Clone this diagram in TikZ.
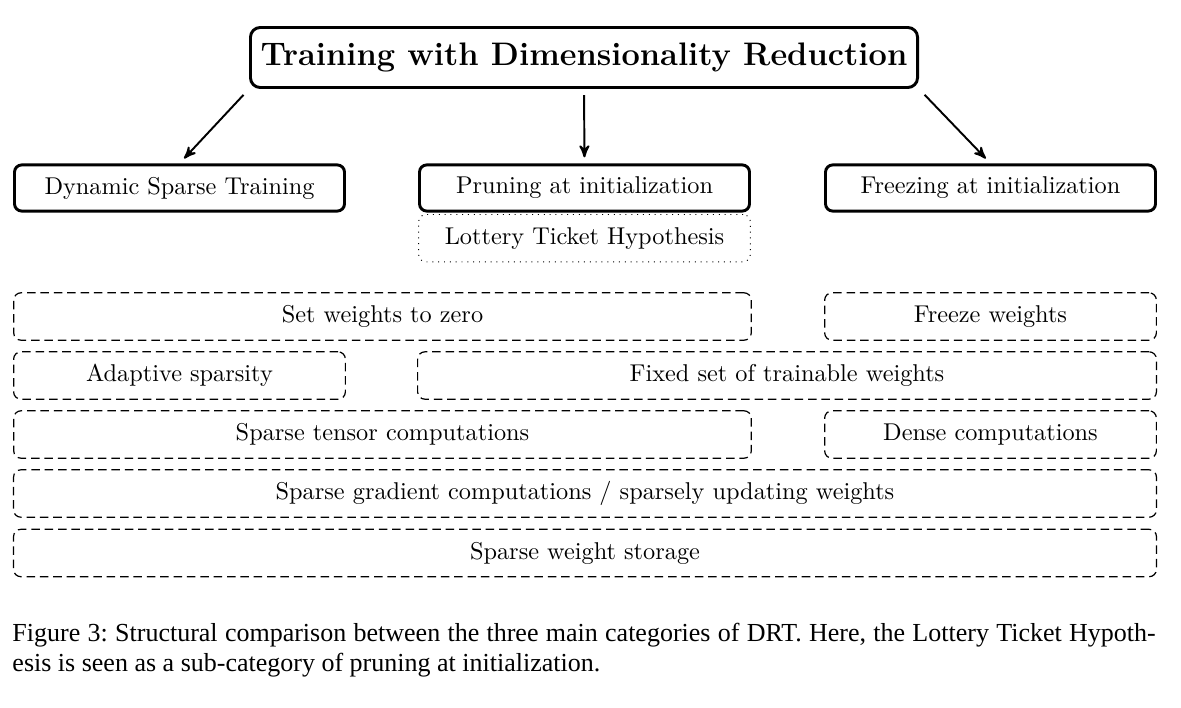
\documentclass[tikz,border=0pt]{standalone}
\usepackage{fontspec}
\usepackage{tikz}
\usetikzlibrary{positioning,arrows}
\newfontfamily\capfont{Liberation Serif}
\tikzset{
  >=stealth',
  headbox/.style={draw, rounded corners=4pt, line width=1.2pt, minimum width=274.5pt, minimum height=24.7pt, font=\fontsize{13.4}{15}\selectfont\bfseries},
  catbox/.style={draw, rounded corners=3pt, line width=1.2pt, minimum width=135.8pt, minimum height=19pt},
  subbox/.style={draw, dotted, rounded corners=3pt, line width=0.4pt, minimum width=136.5pt, minimum height=19.5pt},
  propbox/.style={draw, dash pattern=on 3.5pt off 2pt, rounded corners=3pt, line width=0.5pt, minimum height=19.5pt},
  link/.style={->, line width=0.8pt},
}

\begin{document}
\begin{tikzpicture}[x=0.4115pt, y=-0.4115pt]
    \useasboundingbox (0,0) rectangle (1181,708);

    % top and the three categories
    \node[headbox] (title) at (584,57.5) {Training with Dimensionality Reduction};
    \node[catbox]  (dst)   at (179.5,188) {Dynamic Sparse Training};
    \node[catbox]  (pru)   at (584.5,188) {Pruning at initialization};
    \node[catbox]  (frz)   at (990.5,188) {Freezing at initialization};
    \node[subbox]  (lth)   [below=0.6pt of pru] {Lottery Ticket Hypothesis};

    \draw[link, shorten <=3.3pt, shorten >=2.8pt] (title.south west) -- (dst.north);
    \draw[link, shorten <=2.5pt, shorten >=2.5pt] (title.south) -- (pru.north);
    \draw[link, shorten <=3.3pt, shorten >=2.8pt] (title.south east) -- (frz.north);

    % properties
    \node[propbox, minimum width=303.5pt] (zero)  at (382.5,316.5) {Set weights to zero};
    \node[propbox, minimum width=136.5pt] (frw)   at (990.5,316.5) {Freeze weights};
    \node[propbox, minimum width=136.5pt] (adapt) at (179.5,375.5) {Adaptive sparsity};
    \node[propbox, minimum width=304pt]   (fixed) at (787,375.5) {Fixed set of trainable weights};
    \node[propbox, minimum width=303.5pt] (stc)   at (382.5,434.5) {Sparse tensor computations};
    \node[propbox, minimum width=136.5pt] (dense) at (990.5,434.5) {Dense computations};
    \node[propbox, minimum width=470.3pt] (grad)  at (585,493.5) {Sparse gradient computations / sparsely updating weights};
    \node[propbox, minimum width=470.3pt] (store) at (585,553) {Sparse weight storage};

    \node[anchor=north west, inner sep=0pt, text width=470.4pt, align=justify, font=\capfont\fontsize{10.7}{12.35}\selectfont\frenchspacing] (cap) at (12,623)
      {Figure 3: Structural comparison between the three main categories of DRT. Here, the Lottery Ticket Hypoth-\linebreak esis is seen as a sub-category of pruning at initialization.};
\end{tikzpicture}
\end{document}
